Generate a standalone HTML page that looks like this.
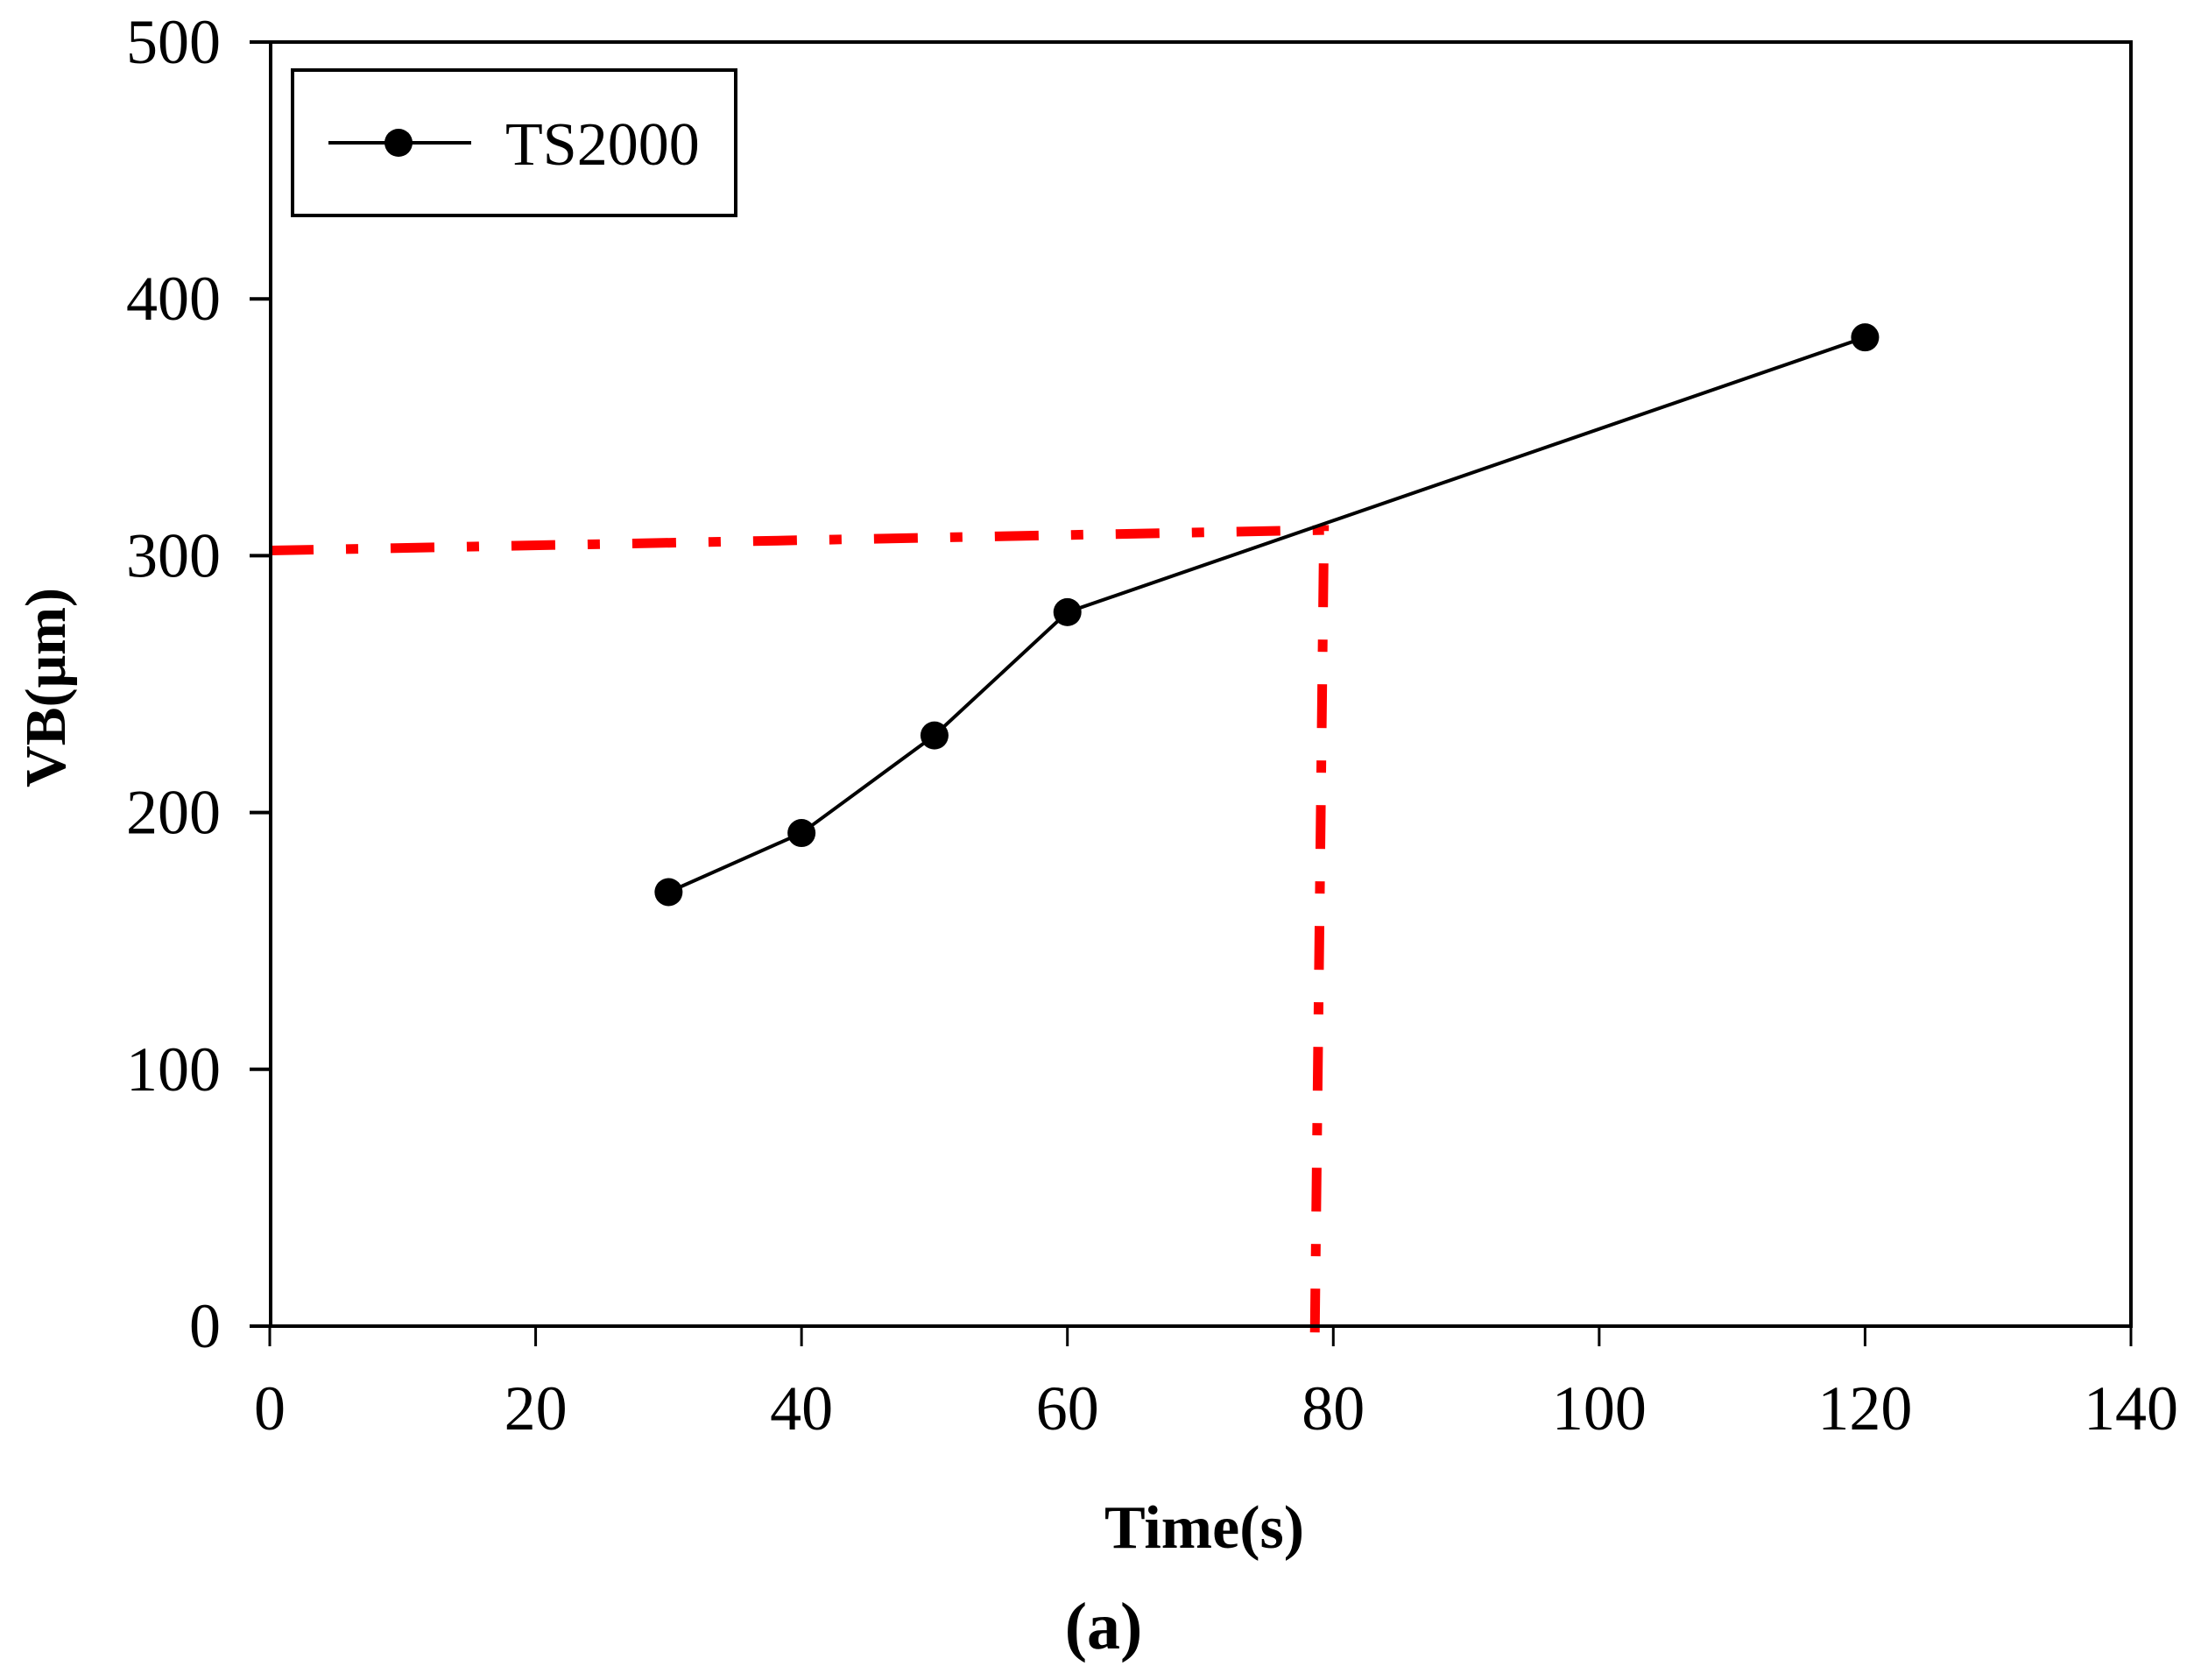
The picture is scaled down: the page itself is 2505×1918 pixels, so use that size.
<!DOCTYPE html>
<html><head><meta charset="utf-8"><style>
html,body{margin:0;padding:0;background:#fff;}
svg{display:block;font-family:"Liberation Serif",serif;}
</style></head><body>
<svg id="chart" width="2505" height="1918" viewBox="0 0 2505 1918">
<g id="grid"></g>
<g id="ref"></g>
<g id="series"></g>
<rect x="309" y="48" width="2124" height="1466" fill="none" stroke="#000" stroke-width="4"/>
<g id="yticks"></g><g id="xticks"></g>
<g>
<rect x="334" y="80" width="506" height="166" fill="#fff" stroke="#000" stroke-width="4"/>
<line x1="375" y1="163" x2="538" y2="163" stroke="#000" stroke-width="4"/>
<circle cx="455" cy="163" r="16" fill="#000"/>
<text x="577" y="188" font-size="70">TS2000</text>
</g>
<text x="1375" y="1767" font-size="70" font-weight="bold" text-anchor="middle">Time(s)</text>
<text transform="translate(74,785) rotate(-90)" font-size="66" font-weight="bold" text-anchor="middle">VB(μm)</text>
<text x="1260" y="1882" font-size="76" font-weight="bold" text-anchor="middle">(a)</text>
</svg>
<script>
const xTicks=[0,20,40,60,80,100,120,140];
const yTicks=[0,100,200,300,400,500];
const times=[30,40,50,60,120];
const vb=[169,192,230,278,385];
const refX=[0,79.3,78.6];
const refY=[302,310,-8];
const NS="http://www.w3.org/2000/svg";
function sx(v){return 308+v*(2433-308)/140;}
function sy(v){return 1514-v*(1514-48)/500;}
function mk(t,a,p){const e=document.createElementNS(NS,t);for(const k in a)e.setAttribute(k,a[k]);p.appendChild(e);return e;}
const yt=document.getElementById('yticks'),xt=document.getElementById('xticks');
yTicks.forEach(v=>{
 const l=mk('line',{x1:285,x2:309,y1:sy(v),y2:sy(v),stroke:'#000','stroke-width':4},yt);
 
 
 const t=mk('text',{x:252,y:sy(v)+24,'font-size':72,'text-anchor':'end'},yt);t.textContent=v;
 
 
});
xTicks.forEach(v=>{
 const l=mk('line',{x1:sx(v),x2:sx(v),y1:1514,y2:1537,stroke:'#000','stroke-width':3},xt);
 
 
 const t=mk('text',{x:sx(v),y:1632,'font-size':72,'text-anchor':'middle'},xt);t.textContent=v;
 
 
});
const ref=document.getElementById('ref');
const rp=mk('polyline',{points:refX.map((x,i)=>sx(x)+','+sy(refY[i])).join(' '),fill:'none',stroke:'#ff0000','stroke-width':11,'stroke-dasharray':'50 37 14 37'},ref);


const s=document.getElementById('series');
const pl=mk('polyline',{points:times.map((x,i)=>sx(x)+','+sy(vb[i])).join(' '),fill:'none',stroke:'#000','stroke-width':4},s);


times.forEach((x,i)=>{
 const c=mk('circle',{cx:sx(x),cy:sy(vb[i]),r:16,fill:'#000'},s);
 
 
});
</script>
</body></html>
